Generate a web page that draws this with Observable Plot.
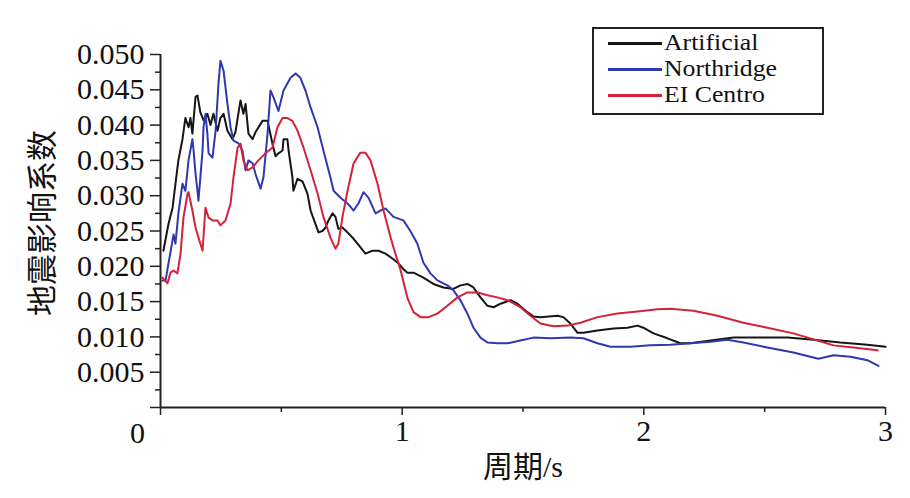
<!DOCTYPE html>
<html>
<head>
<meta charset="utf-8">
<script src="https://cdn.jsdelivr.net/npm/d3@7"></script>
<script src="https://cdn.jsdelivr.net/npm/@observablehq/plot@0.6"></script>
<style>
  html, body { margin: 0; padding: 0; background: #fff; }
  #wrap { position: relative; width: 910px; height: 498px; overflow: hidden; }
  #legend {
    position: absolute; left: 592px; top: 27px; width: 232px; height: 88px;
    border: 2px solid #222; background: #fff; box-sizing: border-box;
    font-family: "Liberation Serif", "DejaVu Serif", "Noto Serif", Tinos, Times, serif; font-size: 23px; color: #111;
  }
  .row { position: absolute; left: 14px; height: 26px; display: flex; align-items: center; }
  .sw { width: 54px; height: 3px; margin-right: 2px; }
  .lab { line-height: 26px; white-space: nowrap; display: inline-block; transform: scaleX(1.12); transform-origin: left center; }
</style>
</head>
<body>
<div id="wrap"><div id="chart"></div>
<div id="legend"></div></div>
<script>
// Series names and colours
const seriesNames = ["Artificial", "Northridge", "EI Centro"];
const seriesColors = ["#151515", "#3038b0", "#d42238"];

// Artificial (period s, coefficient)
const artificialT = [0.012,0.033,0.050,0.062,0.074,0.091,0.103,0.116,0.124,0.132,0.145,0.153,0.165,0.178,0.194,0.207,0.219,0.236,0.248,0.261,0.277,0.298,0.310,0.331,0.343,0.352,0.364,0.381,0.393,0.422,0.443,0.463,0.476,0.488,0.505,0.509,0.525,0.530,0.546,0.550,0.567,0.588,0.608,0.621,0.641,0.654,0.670,0.683,0.695,0.712,0.724,0.736,0.753,0.774,0.799,0.827,0.848,0.877,0.902,0.931,0.964,0.985,1.005,1.022,1.047,1.088,1.129,1.171,1.212,1.241,1.270,1.295,1.324,1.353,1.378,1.407,1.448,1.477,1.518,1.543,1.572,1.643,1.667,1.696,1.725,1.750,1.808,1.874,1.932,1.974,1.998,2.040,2.098,2.151,2.193,2.276,2.371,2.482,2.594,2.702,2.813,2.925,3.000];
const artificialV = [0.0222,0.0260,0.0283,0.0317,0.0350,0.0380,0.0410,0.0397,0.0410,0.0388,0.0440,0.0442,0.0418,0.0407,0.0416,0.0400,0.0416,0.0392,0.0410,0.0416,0.0392,0.0380,0.0390,0.0435,0.0416,0.0430,0.0388,0.0380,0.0390,0.0406,0.0406,0.0374,0.0356,0.0360,0.0364,0.0380,0.0380,0.0364,0.0326,0.0307,0.0324,0.0320,0.0303,0.0279,0.0260,0.0248,0.0250,0.0255,0.0265,0.0275,0.0270,0.0253,0.0255,0.0248,0.0239,0.0227,0.0218,0.0222,0.0222,0.0218,0.0210,0.0204,0.0196,0.0191,0.0191,0.0184,0.0175,0.0170,0.0168,0.0173,0.0175,0.0170,0.0156,0.0144,0.0142,0.0147,0.0152,0.0147,0.0135,0.0129,0.0128,0.0130,0.0128,0.0119,0.0106,0.0106,0.0109,0.0112,0.0113,0.0116,0.0113,0.0105,0.0098,0.0091,0.0091,0.0095,0.0099,0.0099,0.0099,0.0096,0.0092,0.0089,0.0086];

// Northridge
const northridgeT = [0.008,0.021,0.033,0.050,0.054,0.062,0.074,0.091,0.103,0.116,0.132,0.137,0.145,0.153,0.157,0.165,0.174,0.178,0.186,0.194,0.199,0.215,0.228,0.240,0.248,0.261,0.277,0.290,0.302,0.323,0.339,0.352,0.364,0.381,0.393,0.414,0.426,0.443,0.455,0.468,0.488,0.509,0.538,0.559,0.579,0.600,0.621,0.650,0.674,0.703,0.716,0.745,0.774,0.799,0.819,0.840,0.861,0.890,0.910,0.931,0.964,1.005,1.034,1.063,1.088,1.117,1.146,1.187,1.212,1.241,1.270,1.295,1.324,1.353,1.394,1.436,1.489,1.543,1.614,1.696,1.750,1.808,1.862,1.945,2.027,2.110,2.193,2.276,2.346,2.412,2.511,2.619,2.722,2.785,2.855,2.925,2.971];
const northridgeV = [0.0180,0.0180,0.0204,0.0237,0.0245,0.0232,0.0275,0.0317,0.0307,0.0350,0.0380,0.0364,0.0331,0.0307,0.0293,0.0326,0.0364,0.0397,0.0416,0.0388,0.0360,0.0354,0.0392,0.0459,0.0491,0.0477,0.0430,0.0397,0.0378,0.0374,0.0364,0.0336,0.0350,0.0346,0.0331,0.0310,0.0326,0.0388,0.0449,0.0439,0.0420,0.0449,0.0467,0.0473,0.0467,0.0449,0.0425,0.0397,0.0364,0.0326,0.0307,0.0297,0.0289,0.0279,0.0289,0.0305,0.0297,0.0275,0.0279,0.0282,0.0270,0.0265,0.0250,0.0232,0.0205,0.0190,0.0180,0.0173,0.0166,0.0152,0.0133,0.0113,0.0099,0.0092,0.0091,0.0091,0.0095,0.0099,0.0098,0.0099,0.0098,0.0091,0.0086,0.0086,0.0088,0.0089,0.0091,0.0093,0.0096,0.0092,0.0085,0.0078,0.0069,0.0074,0.0072,0.0067,0.0059];

// EI Centro
const elcentroT = [0.008,0.029,0.041,0.054,0.070,0.083,0.095,0.112,0.116,0.132,0.145,0.157,0.174,0.186,0.199,0.215,0.236,0.248,0.269,0.290,0.302,0.319,0.331,0.343,0.360,0.381,0.405,0.434,0.463,0.484,0.505,0.525,0.546,0.567,0.592,0.621,0.650,0.674,0.703,0.724,0.736,0.753,0.774,0.799,0.827,0.848,0.869,0.898,0.923,0.952,0.970,0.993,1.022,1.047,1.076,1.109,1.146,1.187,1.229,1.270,1.312,1.353,1.394,1.436,1.489,1.531,1.572,1.626,1.684,1.738,1.808,1.891,1.974,2.056,2.110,2.205,2.305,2.412,2.511,2.619,2.718,2.785,2.867,2.967];
const elcentroV = [0.0184,0.0176,0.0191,0.0194,0.0190,0.0218,0.0269,0.0303,0.0305,0.0279,0.0255,0.0241,0.0222,0.0283,0.0269,0.0265,0.0265,0.0258,0.0265,0.0289,0.0326,0.0368,0.0374,0.0350,0.0336,0.0340,0.0350,0.0360,0.0368,0.0397,0.0410,0.0410,0.0406,0.0392,0.0368,0.0336,0.0303,0.0270,0.0241,0.0225,0.0232,0.0270,0.0307,0.0346,0.0361,0.0361,0.0350,0.0317,0.0279,0.0241,0.0220,0.0195,0.0155,0.0135,0.0128,0.0128,0.0133,0.0144,0.0156,0.0163,0.0163,0.0159,0.0156,0.0152,0.0142,0.0130,0.0119,0.0115,0.0116,0.0120,0.0128,0.0133,0.0136,0.0139,0.0140,0.0137,0.0130,0.0120,0.0113,0.0105,0.0095,0.0088,0.0085,0.0081];

// Axis ticks
const xMajorTicks = [0, 1, 2, 3];
const xMinorTicks = [0.5, 1.5, 2.5];
const yMajorTicks = [0, 0.005, 0.010, 0.015, 0.020, 0.025, 0.030, 0.035, 0.040, 0.045, 0.050];
const yMinorTicks = [0.0025, 0.0075, 0.0125, 0.0175, 0.0225, 0.0275, 0.0325, 0.0375, 0.0425, 0.0475];
const xLabel = "周期/s";
const yLabel = "地震影响系数";

const allT = [artificialT, northridgeT, elcentroT];
const allV = [artificialV, northridgeV, elcentroV];
const rows = [];
seriesNames.forEach((name, i) => {
  allT[i].forEach((t, j) => rows.push({series: name, t, v: allV[i][j]}));
});

const serif = "'Liberation Serif', 'DejaVu Serif', 'Noto Serif', Tinos, Times, 'Noto Sans CJK SC', serif";

const chart = Plot.plot({
  width: 910,
  height: 498,
  marginLeft: 160,
  marginRight: 25,
  marginTop: 54,
  marginBottom: 91,
  style: {fontFamily: serif, fontSize: "30px", background: "#fff", color: "#111"},
  x: {domain: [0, 3], axis: null},
  y: {domain: [0, 0.05], axis: null},
  color: {domain: seriesNames, range: seriesColors},
  marks: [
    Plot.line(rows, {x: "t", y: "v", z: "series", stroke: "series", strokeWidth: 2, curve: "linear"}),
    Plot.ruleX([0], {stroke: "#222", strokeWidth: 2}),
    Plot.ruleY([0], {stroke: "#222", strokeWidth: 2}),
    Plot.axisY(yMajorTicks, {tickSize: 10, tickPadding: 6, tickFormat: d => d === 0 ? "" : d3.format(".3f")(d), label: null, fontSize: 30, stroke: "#222", strokeWidth: 1.5}),
    Plot.axisY(yMinorTicks, {tickSize: 5, tickFormat: () => "", label: null, stroke: "#222", strokeWidth: 1.5}),
    Plot.axisX(xMajorTicks, {tickSize: 8, tickPadding: 4, tickFormat: d => d === 0 ? "" : String(d), label: null, fontSize: 30, stroke: "#222", strokeWidth: 1.5}),
    Plot.axisX(xMinorTicks, {tickSize: 5, tickFormat: () => "", label: null, stroke: "#222", strokeWidth: 1.5}),
    Plot.text([{t: 0, v: 0}], {x: "t", y: "v", text: () => "0", dx: -23, dy: 26, fontSize: 30, fill: "#111"}),
    Plot.text([xLabel], {frameAnchor: "bottom", dy: 60, fontSize: 30, fill: "#111", textAnchor: "middle", lineAnchor: "middle"}),
    Plot.text([yLabel], {frameAnchor: "left", dx: -117, dy: -8, rotate: -90, fontSize: 31, fill: "#111", textAnchor: "middle", lineAnchor: "middle"})
  ]
});
document.getElementById("chart").appendChild(chart);

// Legend
const legend = document.getElementById("legend");
seriesNames.forEach((name, i) => {
  const row = document.createElement("div");
  row.className = "row";
  row.style.top = (1 + i * 26) + "px";
  const sw = document.createElement("div");
  sw.className = "sw";
  sw.style.background = seriesColors[i];
  const lab = document.createElement("span");
  lab.className = "lab";
  lab.textContent = name;
  row.appendChild(sw);
  row.appendChild(lab);
  legend.appendChild(row);
});
</script>
</body>
</html>
